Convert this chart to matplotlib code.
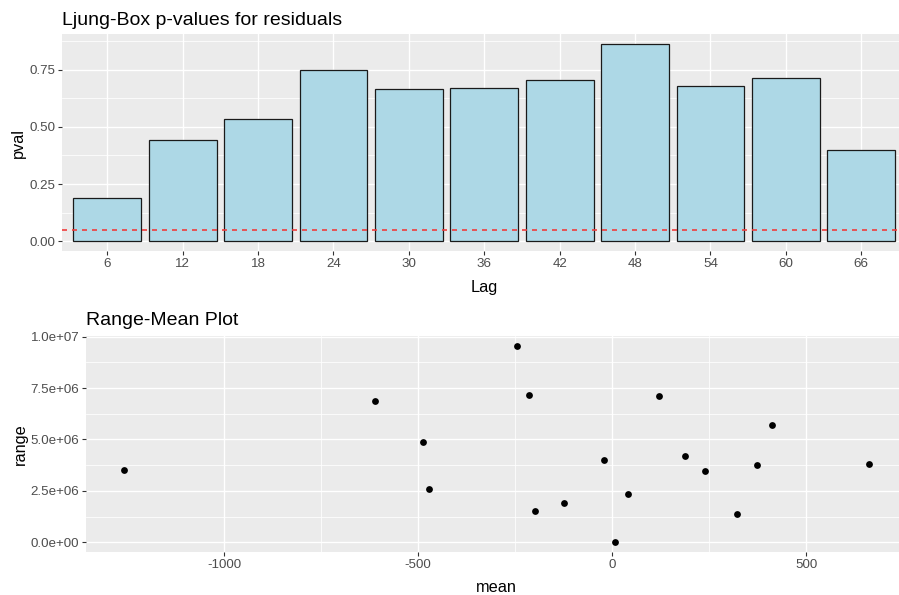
import matplotlib
matplotlib.use("Agg")
import matplotlib.pyplot as plt
from matplotlib.ticker import FixedLocator, FuncFormatter
import numpy as np

# ---- data ----
lags = [6, 12, 18, 24, 30, 36, 42, 48, 54, 60, 66]
pvals = [0.188, 0.444, 0.535, 0.750, 0.664, 0.668, 0.703, 0.862, 0.679, 0.716, 0.400]
sig_level = 0.05

means = [-1259, -610, -488, -471, -246, -215, -200, -124, -22, 6, 40, 120,
         188, 239, 321, 373, 412, 662]
ranges = [3.53e6, 6.87e6, 4.89e6, 2.62e6, 9.56e6, 7.14e6, 1.55e6, 1.92e6,
          4.02e6, 0.0, 2.35e6, 7.09e6, 4.18e6, 3.48e6, 1.38e6, 3.74e6,
          5.68e6, 3.79e6]

yticks_top = [0.00, 0.25, 0.50, 0.75]
yticks_bot = [0.0, 2.5e6, 5.0e6, 7.5e6, 1.0e7]
xticks_bot = [-1000, -500, 0, 500]

# ---- style ----
plt.rcParams['font.family'] = ['Liberation Sans', 'DejaVu Sans']
PANEL = '#EBEBEB'
TICKC = '#4D4D4D'
W, H = 899, 595
fig = plt.figure(figsize=(W / 100, H / 100), dpi=100)


def style(ax):
    ax.set_facecolor(PANEL)
    for s in ax.spines.values():
        s.set_visible(False)
    ax.grid(which='major', color='white', linewidth=1.0)
    ax.grid(which='minor', color='white', linewidth=0.55)
    ax.set_axisbelow(True)
    ax.tick_params(which='major', length=2.7, width=0.8, color='#333333',
                   labelsize=9.6, labelcolor=TICKC, pad=2.2)
    ax.tick_params(which='minor', length=0)


def pos(l, t, r, b):
    return [l / W, 1 - b / H, (r - l) / W, (b - t) / H]

# ---- top: Ljung-Box ----
ax1 = fig.add_axes(pos(62, 34.3, 899, 251))
style(ax1)
xpos = np.arange(1, len(lags) + 1)
ax1.bar(xpos, pvals, width=0.9, color='#ADD8E6', edgecolor='#1a1a1a',
        linewidth=0.9, zorder=2)
ax1.axhline(sig_level, color='#F03C3C', linestyle=(0, (3.0, 3.0)),
            linewidth=1.2, zorder=3)
ax1.set_xlim(0.4, 11.6 - (906.5 - 899) / 75.4)
ax1.set_ylim(-0.043, 0.905)
ax1.set_xticks(xpos)
ax1.set_xticklabels([str(l) for l in lags])
ax1.yaxis.set_major_locator(FixedLocator(yticks_top))
ax1.yaxis.set_major_formatter(FuncFormatter(lambda v, p: f"{v:.2f}"))
ax1.yaxis.set_minor_locator(FixedLocator([0.125, 0.375, 0.625, 0.875]))
ax1.xaxis.grid(False, which='minor')
ax1.set_title('Ljung-Box p-values for residuals', loc='left', fontsize=14,
              pad=7, color='black')
ax1.set_xlabel('Lag', fontsize=11.7, labelpad=2)
ax1.set_ylabel('pval', fontsize=11.7, labelpad=2)
ax1.xaxis.set_label_coords((484 - 62) / (899 - 62), -0.135)

# ---- bottom: Range-Mean ----
ax2 = fig.add_axes(pos(86, 335.7, 899, 552.3))
style(ax2)
ax2.scatter(means, ranges, s=24, color='black', zorder=3, linewidths=0)
ax2.set_xlim(-1356, 739)
ax2.set_ylim(-0.478e6, 1.004e7)
ax2.xaxis.set_major_locator(FixedLocator(xticks_bot))
ax2.xaxis.set_minor_locator(FixedLocator([-750, -250, 250]))
ax2.yaxis.set_major_locator(FixedLocator(yticks_bot))
ax2.yaxis.set_minor_locator(FixedLocator([1.25e6, 3.75e6, 6.25e6, 8.75e6]))


def sci(v, p):
    return f"{v:.1e}"


ax2.yaxis.set_major_formatter(FuncFormatter(sci))
ax2.xaxis.set_major_formatter(FuncFormatter(lambda v, p: f"{int(v)}"))
ax2.set_title('Range-Mean Plot', loc='left', fontsize=14, pad=7.5,
              color='black')
ax2.set_xlabel('mean', fontsize=11.7)
ax2.set_ylabel('range', fontsize=11.7, labelpad=2)
ax2.xaxis.set_label_coords((496 - 86) / (899 - 86), -0.13)

fig.savefig('out.png', dpi=100)
